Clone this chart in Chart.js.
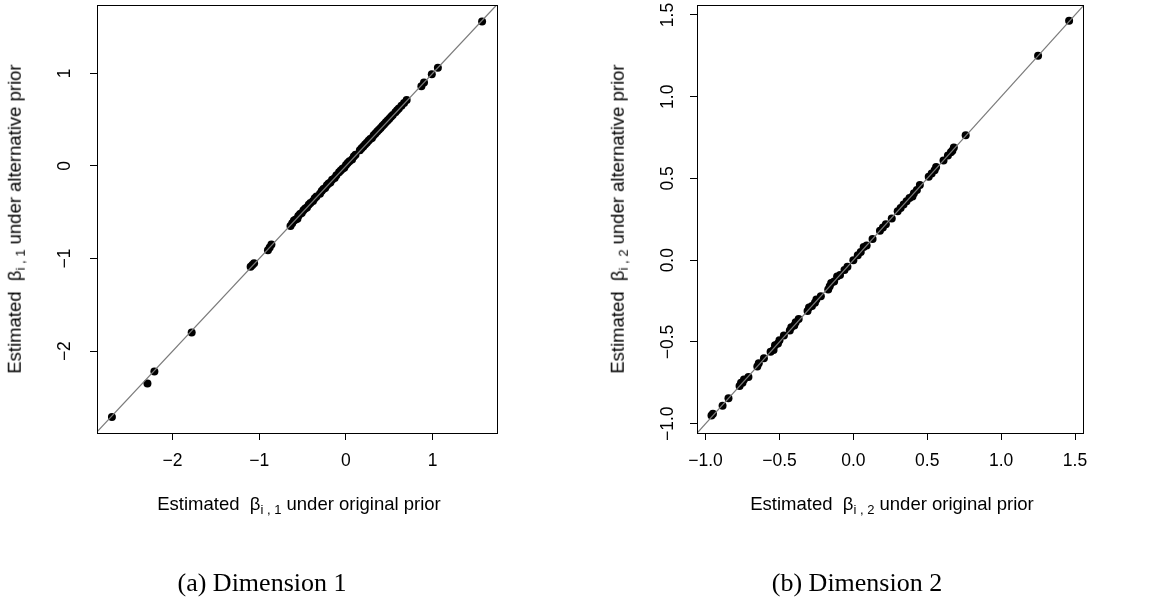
<!DOCTYPE html>
<html>
<head>
<meta charset="utf-8">
<script src="https://cdn.jsdelivr.net/npm/chart.js@4.4.1/dist/chart.umd.min.js"></script>
<style>
  html, body { margin: 0; padding: 0; background: #fff; }
  #page { position: relative; width: 1149px; height: 603px; overflow: hidden;
          font-family: "Liberation Sans", Arial, sans-serif; color: #000; }
  canvas { position: absolute; top: 0; }
  .xtitle, .ytitle, .caption { position: absolute; white-space: nowrap; line-height: 1; }
  .xtitle { font-size: 18.5px; transform: translate(-50%, -50%); }
  .ytitle { font-size: 18.5px; transform: translate(-50%, -50%) rotate(-90deg); }
  .caption { font-family: "Liberation Serif", serif; font-size: 26px; transform: translate(-50%, -50%); }
  sub { font-size: 13px; vertical-align: -4px; line-height: 0; }
</style>
</head>
<body>
<div id="page">
  <canvas id="dim1" width="570" height="603" style="left:0"></canvas>
  <canvas id="dim2" width="579" height="603" style="left:570px"></canvas>

  <div class="ytitle" style="left:15px; top:219px">Estimated&nbsp; β<sub>i , 1</sub> under alternative prior</div>
  <div class="xtitle" style="left:299px; top:504px">Estimated&nbsp; β<sub>i , 1</sub> under original prior</div>
  <div class="caption" style="left:262px; top:583px">(a) Dimension 1</div>

  <div class="ytitle" style="left:618px; top:219px">Estimated&nbsp; β<sub>i , 2</sub> under alternative prior</div>
  <div class="xtitle" style="left:892px; top:504px">Estimated&nbsp; β<sub>i , 2</sub> under original prior</div>
  <div class="caption" style="left:857px; top:583px">(b) Dimension 2</div>
</div>

<script>
// estimates of beta_i,1 (x: original prior, y: alternative prior)
const dim1Original = [
  -2.70, -2.29, -2.21, -1.78,
  -1.10, -1.08, -1.06,
  -0.90, -0.88, -0.86,
  -0.64, -0.62, -0.60, -0.58, -0.56, -0.55, -0.53, -0.51, -0.49, -0.47,
  -0.45, -0.43, -0.41, -0.38, -0.36, -0.34, -0.30, -0.28, -0.26, -0.24,
  -0.22, -0.20, -0.18, -0.16, -0.13, -0.11, -0.08, -0.06, -0.04, -0.02,
  0.00, 0.02, 0.04, 0.07, 0.09, 0.11, 0.16, 0.18, 0.20, 0.22,
  0.24, 0.26, 0.28, 0.30, 0.32, 0.34, 0.36, 0.38, 0.40, 0.42,
  0.44, 0.46, 0.48, 0.50, 0.52, 0.54, 0.57, 0.59, 0.61, 0.64, 0.67, 0.70,
  0.87, 0.90, 0.99, 1.06, 1.57
];
const dim1Alternative = [
  -2.71, -2.35, -2.22, -1.80,
  -1.09, -1.07, -1.05,
  -0.91, -0.88, -0.85,
  -0.65, -0.62, -0.59, -0.58, -0.57, -0.54, -0.52, -0.51, -0.48, -0.46,
  -0.45, -0.42, -0.40, -0.38, -0.35, -0.33, -0.30, -0.27, -0.25, -0.24,
  -0.21, -0.19, -0.18, -0.15, -0.13, -0.10, -0.07, -0.05, -0.03, -0.02,
  0.01, 0.03, 0.05, 0.07, 0.10, 0.12, 0.17, 0.19, 0.21, 0.23,
  0.25, 0.27, 0.29, 0.30, 0.33, 0.35, 0.37, 0.39, 0.41, 0.43,
  0.45, 0.47, 0.49, 0.51, 0.53, 0.55, 0.58, 0.60, 0.62, 0.65, 0.68, 0.71,
  0.86, 0.90, 0.99, 1.06, 1.56
];

// estimates of beta_i,2
const dim2Original = [
  -0.96, -0.95, -0.885, -0.845,
  -0.77, -0.76, -0.75, -0.74, -0.71,
  -0.65, -0.64, -0.605,
  -0.56, -0.54, -0.53, -0.51, -0.50,
  -0.47, -0.43, -0.42, -0.40, -0.39, -0.37,
  -0.31, -0.30, -0.28, -0.26, -0.25, -0.22,
  -0.17, -0.16, -0.15, -0.13, -0.11, -0.09,
  -0.06, -0.04, 0.00, 0.03, 0.05, 0.07, 0.09,
  0.13, 0.18, 0.20, 0.22, 0.26,
  0.30, 0.32, 0.34, 0.36, 0.38, 0.40, 0.41, 0.43, 0.45,
  0.51, 0.53, 0.55, 0.56, 0.61,
  0.64, 0.66, 0.67, 0.68, 0.76, 1.25, 1.46
];
const dim2Alternative = [
  -0.95, -0.94, -0.89, -0.845,
  -0.77, -0.75, -0.75, -0.73, -0.715,
  -0.65, -0.63, -0.60,
  -0.56, -0.55, -0.52, -0.51, -0.49,
  -0.46, -0.43, -0.41, -0.40, -0.38, -0.36,
  -0.31, -0.29, -0.28, -0.26, -0.24, -0.22,
  -0.18, -0.16, -0.14, -0.13, -0.10, -0.09,
  -0.06, -0.04, 0.00, 0.03, 0.05, 0.08, 0.09,
  0.13, 0.18, 0.20, 0.22, 0.255,
  0.30, 0.32, 0.34, 0.36, 0.38, 0.39, 0.41, 0.43, 0.46,
  0.51, 0.53, 0.55, 0.57, 0.61,
  0.64, 0.66, 0.67, 0.69, 0.765, 1.25, 1.465
];

const dim1Ticks = [-2, -1, 0, 1];
const dim2Ticks = [-1.0, -0.5, 0.0, 0.5, 1.0, 1.5];

// y = x reference line
const diagonal = [-5, 5];

const FONT = { family: '"Liberation Sans", Arial, sans-serif', size: 17.5 };

const fmtInt = (v) => (v < 0 ? "\u2212" + Math.abs(v) : String(v));
const fmtOne = (v) => (v < 0 ? "\u2212" + Math.abs(v).toFixed(1) : v.toFixed(1));

// R style box around the plotting region
const plotBox = {
  id: "plotBox",
  afterDatasetsDraw(chart) {
    const { ctx, chartArea: { left, top, right, bottom } } = chart;
    ctx.save();
    ctx.strokeStyle = "#000";
    ctx.lineWidth = 1;
    ctx.strokeRect(left + 0.5, top + 0.5, right - left, bottom - top);
    ctx.restore();
  },
};

function axis(ticks, fmt, limits, vertical, opts) {
  return {
    type: "linear",
    min: limits[0],
    max: limits[1],
    afterBuildTicks: (scale) => {
      scale.ticks = ticks.map((v) => ({ value: v }));
    },
    afterFit: (scale) => {
      if (vertical) {
        scale.width = opts.size;
        scale.paddingTop = 0;
        scale.paddingBottom = 0;
      } else {
        scale.height = opts.size;
        scale.paddingLeft = 0;
        scale.paddingRight = 0;
      }
    },
    grid: { drawOnChartArea: false, drawTicks: true, tickLength: 7, color: "#000", lineWidth: 1 },
    border: { display: true, color: "#000", width: 1 },
    ticks: {
      color: "#000",
      font: FONT,
      padding: opts.pad,
      autoSkip: false,
      minRotation: vertical ? 90 : 0,
      maxRotation: vertical ? 90 : 0,
      crossAlign: vertical ? "center" : "near",
      callback: fmt,
    },
  };
}

function makeChart(id, xs, ys, ticks, fmt, xLim, yLim, yAxisWidth, yPad, rightPad) {
  new Chart(document.getElementById(id), {
    type: "scatter",
    data: {
      datasets: [
        {
          data: xs.map((x, i) => ({ x: x, y: ys[i] })),
          pointRadius: 4,
          pointBackgroundColor: "#000",
          pointBorderWidth: 0,
          showLine: false,
          order: 1,
        },
        {
          data: diagonal.map((v) => ({ x: v, y: v })),
          showLine: true,
          borderColor: "#7a7a7a",
          borderWidth: 1.2,
          pointRadius: 0,
          clip: 0,
          order: 0,
        },
      ],
    },
    options: {
      responsive: false,
      animation: false,
      devicePixelRatio: 1,
      layout: { padding: { left: 0, top: 5, right: rightPad, bottom: 110 } },
      plugins: { legend: { display: false }, tooltip: { enabled: false } },
      scales: {
        x: axis(ticks, fmt, xLim, false, { size: 60, pad: 10.5 }),
        y: axis(ticks, fmt, yLim, true, { size: yAxisWidth, pad: yPad }),
      },
    },
    plugins: [plotBox],
  });
}

makeChart("dim1", dim1Original, dim1Alternative, dim1Ticks, fmtInt,
  [-2.872, 1.742], [-2.884, 1.737], 97, 15, 73);
makeChart("dim2", dim2Original, dim2Alternative, dim2Ticks, fmtOne,
  [-1.058, 1.554], [-1.057, 1.561], 127, 5, 66);
</script>
</body>
</html>
